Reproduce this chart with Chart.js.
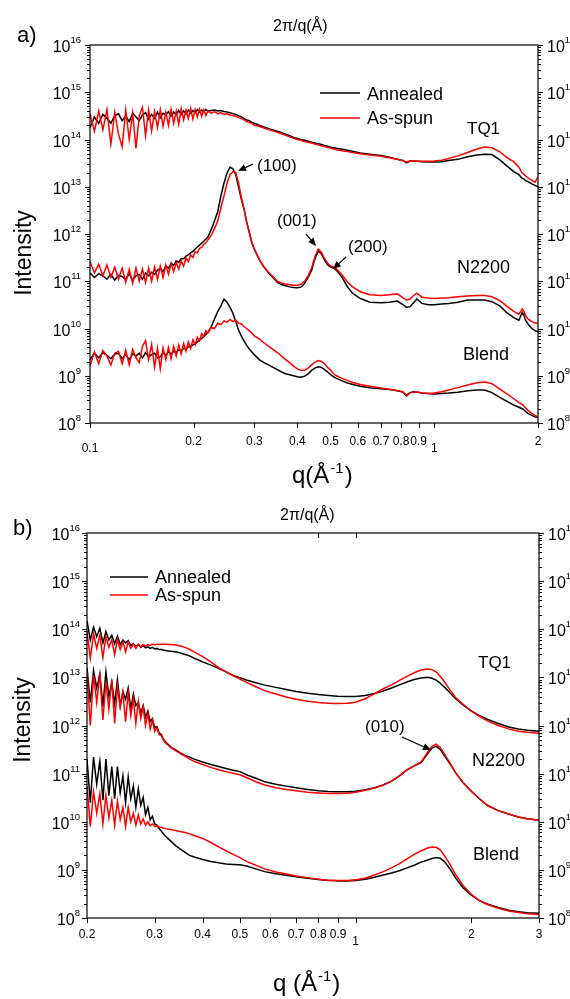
<!DOCTYPE html>
<html>
<head>
<meta charset="utf-8">
<script src="https://cdn.jsdelivr.net/npm/chart.js@4.4.1/dist/chart.umd.min.js"></script>
<style>
  body { margin: 0; background: #fff; }
  canvas { position: absolute; left: 0; }
  #chartA { top: 0; }
  #chartB { top: 499px; }
</style>
</head>
<body>
<canvas id="chartA" width="570" height="499"></canvas>
<canvas id="chartB" width="570" height="500"></canvas>
<script>
// ---- panel a: q grid and intensities ----
const qA = [
  0.100,0.103,0.106,0.109,0.112,0.115,0.118,0.121,0.124,0.127,
  0.130,0.133,0.136,0.139,0.142,0.145,0.148,0.151,0.154,0.157,
  0.160,0.163,0.166,0.169,0.172,0.175,0.178,0.181,0.184,0.187,
  0.190,0.193,0.196,0.199,0.202,0.205,0.208,0.211,0.214,0.217,
  0.220,0.225,0.230,0.235,0.240,0.245,0.250,0.255,0.260,0.265,
  0.270,0.275,0.280,0.285,0.290,0.295,0.300,0.31,0.32,0.33,
  0.34,0.35,0.36,0.37,0.38,0.39,0.40,0.41,0.42,0.43,
  0.44,0.45,0.46,0.47,0.48,0.49,0.50,0.51,0.52,0.54,
  0.56,0.58,0.61,0.65,0.70,0.74,0.78,0.81,0.83,0.85,
  0.87,0.89,0.92,0.96,1.00,1.05,1.10,1.17,1.25,1.33,
  1.40,1.47,1.55,1.62,1.70,1.76,1.80,1.82,1.84,1.87,
  1.92,1.96,2.00
];

const tq1AnnealedA = [
  1.8e14,3.0e14,2.2e14,3.4e14,2.8e14,2.2e14,3.2e14,3.5e14,2.5e14,3.1e14,
  2.4e14,3.6e14,3.0e14,2.5e14,3.3e14,3.7e14,2.7e14,3.4e14,2.8e14,3.8e14,
  2.9e14,3.6e14,3.3e14,3.9e14,3.1e14,3.8e14,3.3e14,4.1e14,3.4e14,4.0e14,
  3.5e14,4.2e14,3.6e14,4.1e14,3.7e14,4.3e14,3.8e14,4.2e14,3.9e14,4.3e14,
  4.0e14,4.1e14,4.2e14,4.0e14,4.1e14,3.9e14,3.8e14,3.7e14,3.5e14,3.4e14,
  3.2e14,3.0e14,2.8e14,2.6e14,2.5e14,2.3e14,2.2e14,2.0e14,1.85e14,1.7e14,
  1.6e14,1.5e14,1.4e14,1.3e14,1.2e14,1.1e14,1.05e14,1.0e14,9.6e13,9.2e13,
  8.8e13,8.4e13,8.1e13,7.8e13,7.5e13,7.2e13,6.9e13,6.7e13,6.5e13,6.2e13,
  5.9e13,5.6e13,5.2e13,4.9e13,4.6e13,4.2e13,3.8e13,3.6e13,3.2e13,3.5e13,
  3.5e13,3.45e13,3.4e13,3.35e13,3.35e13,3.4e13,3.6e13,3.8e13,4.3e13,4.7e13,
  4.9e13,4.8e13,3.7e13,2.8e13,2.1e13,1.8e13,1.5e13,1.45e13,1.35e13,1.28e13,
  1.15e13,1.07e13,1.0e13
];
const tq1SpunA = [
  3.5e14,1.5e14,4.0e14,1.6e14,4.3e14,8e13,3.8e14,1.3e14,7e13,4.2e14,
  1.0e14,3.6e14,6.5e13,3.2e14,4.8e14,1.2e14,4.2e14,1.5e14,3.9e14,1.8e14,
  4.3e14,1.9e14,3.8e14,2.0e14,4.4e14,2.2e14,4.0e14,2.1e14,4.5e14,2.6e14,
  4.2e14,2.8e14,4.6e14,2.7e14,4.3e14,3.0e14,4.4e14,3.1e14,4.2e14,3.2e14,
  4.0e14,3.6e14,3.9e14,3.5e14,3.7e14,3.4e14,3.5e14,3.3e14,3.2e14,3.1e14,
  2.9e14,2.8e14,2.6e14,2.4e14,2.3e14,2.2e14,2.0e14,1.9e14,1.75e14,1.62e14,
  1.52e14,1.42e14,1.32e14,1.23e14,1.14e14,1.06e14,1.0e14,9.5e13,9.1e13,8.7e13,
  8.4e13,8.0e13,7.7e13,7.4e13,7.1e13,6.8e13,6.5e13,6.3e13,6.1e13,5.8e13,
  5.6e13,5.3e13,5.0e13,4.7e13,4.4e13,4.1e13,3.8e13,3.6e13,3.3e13,3.55e13,
  3.5e13,3.5e13,3.45e13,3.45e13,3.5e13,3.65e13,3.95e13,4.5e13,5.3e13,6.3e13,
  6.9e13,6.7e13,5.5e13,4.2e13,3.4e13,2.6e13,1.95e13,1.85e13,1.7e13,1.55e13,
  1.35e13,1.25e13,1.6e13
];
const n2200AnnealedA = [
  1.5e11,1.2e11,1.45e11,1.3e11,1.1e11,1.4e11,1.05e11,1.35e11,1.25e11,1.1e11,
  1.45e11,1.05e11,1.3e11,1.4e11,1.1e11,1.5e11,1.3e11,1.55e11,1.4e11,1.7e11,
  1.9e11,1.6e11,2.1e11,1.9e11,2.4e11,2.2e11,2.7e11,2.5e11,3.0e11,3.0e11,
  3.4e11,3.6e11,4.0e11,4.3e11,4.8e11,5.3e11,5.8e11,6.4e11,7.0e11,7.8e11,
  8.6e11,1.25e12,1.9e12,3.0e12,6.5e12,1.2e13,1.95e13,2.6e13,2.4e13,1.8e13,
  1.0e13,5.5e12,3.4e12,1.8e12,1.1e12,6.5e11,4.8e11,2.9e11,2.0e11,1.5e11,
  1.2e11,9.5e10,8.5e10,8.0e10,7.6e10,7.4e10,7.3e10,7.5e10,9.0e10,1.2e11,
  1.7e11,3.0e11,4.4e11,3.8e11,2.8e11,2.2e11,2.0e11,1.9e11,1.7e11,1.2e11,
  7.5e10,5.5e10,4.3e10,3.6e10,3.5e10,3.6e10,3.8e10,3.2e10,2.8e10,2.9e10,
  3.5e10,4.2e10,3.4e10,3.2e10,3.2e10,3.3e10,3.4e10,3.6e10,4.0e10,4.0e10,
  4.0e10,3.7e10,3.0e10,2.2e10,1.7e10,1.5e10,2.2e10,1.9e10,1.5e10,1.25e10,
  1.0e10,9e9,8.5e9
];
const n2200SpunA = [
  2.6e11,1.5e11,2.3e11,1.3e11,2.2e11,1.2e11,2.0e11,1.1e11,1.9e11,9.5e10,
  1.8e11,9e10,1.9e11,1.0e11,1.8e11,9.5e10,1.9e11,1.0e11,2.0e11,1.1e11,
  2.1e11,1.2e11,2.2e11,1.4e11,2.4e11,1.6e11,2.5e11,1.8e11,2.7e11,2.1e11,
  3.1e11,2.6e11,3.6e11,3.2e11,4.2e11,4.0e11,5.0e11,5.2e11,6.0e11,6.5e11,
  7.5e11,9.5e11,1.3e12,1.9e12,3.6e12,6.5e12,1.2e13,1.8e13,2.1e13,2.0e13,
  1.2e13,6e12,3.5e12,1.8e12,1.1e12,6.8e11,4.8e11,2.9e11,2.0e11,1.55e11,
  1.25e11,1.0e11,9.2e10,8.7e10,8.4e10,8.2e10,8.2e10,8.6e10,1.0e11,1.3e11,
  1.9e11,3.3e11,4.8e11,4.1e11,3.0e11,2.4e11,2.1e11,2.0e11,1.8e11,1.35e11,
  9.5e10,7.5e10,6.0e10,5.2e10,5.0e10,5.2e10,5.4e10,4.5e10,4.0e10,4.2e10,
  5.0e10,5.6e10,4.6e10,4.4e10,4.3e10,4.4e10,4.5e10,4.7e10,4.9e10,5.0e10,
  5.0e10,4.7e10,3.9e10,3.0e10,2.3e10,2.0e10,2.6e10,2.3e10,1.9e10,1.6e10,
  1.4e10,1.3e10,1.3e10
];
const blendAnnealedA = [
  2.2e9,3.0e9,2.4e9,3.1e9,2.7e9,2.3e9,2.9e9,3.0e9,2.3e9,2.8e9,
  2.2e9,2.9e9,2.6e9,3.0e9,2.4e9,3.1e9,2.5e9,2.8e9,3.0e9,2.4e9,
  2.5e9,3.1e9,2.7e9,3.2e9,2.9e9,3.3e9,3.1e9,3.5e9,3.4e9,3.8e9,
  3.7e9,4.1e9,4.2e9,4.5e9,4.8e9,5.2e9,5.7e9,6.2e9,6.8e9,7.5e9,
  8.3e9,1.1e10,1.6e10,2.3e10,3.0e10,4.2e10,3.6e10,2.8e10,2.1e10,1.4e10,
  9.3e9,7e9,5.5e9,4.4e9,3.7e9,3.2e9,2.8e9,2.2e9,1.9e9,1.7e9,
  1.5e9,1.35e9,1.2e9,1.1e9,1.05e9,1.0e9,9.5e8,9.3e8,9.8e8,1.1e9,
  1.3e9,1.45e9,1.55e9,1.5e9,1.35e9,1.2e9,1.05e9,9.5e8,8.8e8,7.8e8,
  7.0e8,6.5e8,6.0e8,5.6e8,5.3e8,5.1e8,4.8e8,4.5e8,3.9e8,4.4e8,
  4.6e8,4.5e8,4.3e8,4.2e8,4.1e8,4.2e8,4.3e8,4.5e8,4.8e8,5.0e8,
  5.0e8,4.4e8,3.5e8,2.9e8,2.4e8,2.15e8,2.0e8,1.9e8,1.75e8,1.6e8,
  1.45e8,1.35e8,1.3e8
];
const blendSpunA = [
  1.6e9,3.2e9,1.8e9,3.4e9,2.6e9,1.7e9,3.0e9,3.3e9,1.8e9,3.5e9,
  1.7e9,3.6e9,2.4e9,1.9e9,4.2e9,5.5e9,2.2e9,4.6e9,1.5e9,3.8e9,
  1.4e9,3.9e9,2.2e9,4.0e9,2.3e9,4.2e9,2.6e9,4.5e9,2.9e9,4.8e9,
  3.3e9,5.2e9,3.8e9,5.8e9,4.5e9,6.5e9,5.5e9,7.8e9,6.8e9,9.0e9,
  8.0e9,1.05e10,1.0e10,1.3e10,1.2e10,1.45e10,1.35e10,1.55e10,1.4e10,1.5e10,
  1.3e10,1.25e10,1.1e10,1.0e10,9e9,8e9,7e9,6.0e9,5.0e9,4.2e9,
  3.6e9,3.1e9,2.6e9,2.2e9,1.9e9,1.6e9,1.4e9,1.3e9,1.3e9,1.45e9,
  1.7e9,1.95e9,2.1e9,2.0e9,1.8e9,1.5e9,1.3e9,1.1e9,1.0e9,8.8e8,
  8.0e8,7.2e8,6.5e8,6.0e8,5.5e8,5.2e8,4.9e8,4.6e8,3.7e8,4.4e8,
  4.5e8,4.6e8,4.3e8,4.2e8,4.3e8,4.6e8,5.0e8,5.6e8,6.4e8,7.1e8,
  7.4e8,6.8e8,5.2e8,4.2e8,3.3e8,2.7e8,2.5e8,2.3e8,2.1e8,1.85e8,
  1.6e8,1.45e8,1.35e8
];

// ---- panel b ----
const qB = [
  0.200,0.204,0.208,0.212,0.216,0.220,0.224,0.228,0.232,0.236,
  0.240,0.244,0.248,0.252,0.256,0.260,0.264,0.268,0.272,0.276,
  0.280,0.284,0.288,0.292,0.296,0.300,0.304,0.308,0.312,0.316,
  0.320,0.33,0.34,0.35,0.36,0.37,0.38,0.40,0.42,0.44,
  0.46,0.48,0.50,0.52,0.55,0.58,0.62,0.66,0.70,0.75,
  0.80,0.85,0.88,0.90,0.95,1.00,1.06,1.12,1.18,1.24,
  1.30,1.36,1.42,1.48,1.54,1.58,1.62,1.66,1.70,1.76,
  1.82,1.90,2.00,2.10,2.20,2.35,2.50,2.65,2.80,3.00
];
const tq1AnnealedB = [
  1.5e14,6e13,1.1e14,7e13,1.05e14,5.2e13,9e13,6e13,7.5e13,5e13,
  7.2e13,4.8e13,6e13,5.2e13,5.8e13,4.5e13,5.0e13,4.5e13,4.8e13,4.2e13,
  4.6e13,4.1e13,4.3e13,4.0e13,4.2e13,3.9e13,4.0e13,3.8e13,3.8e13,3.7e13,
  3.6e13,3.5e13,3.4e13,3.2e13,3.0e13,2.8e13,2.5e13,2.1e13,1.8e13,1.55e13,
  1.3e13,1.1e13,9.8e12,8.8e12,7.7e12,6.9e12,6.2e12,5.6e12,5.1e12,4.7e12,
  4.4e12,4.2e12,4.1e12,4.05e12,4.0e12,4.0e12,4.2e12,4.6e12,5.2e12,6.0e12,
  7.0e12,8.0e12,9.0e12,9.7e12,1.0e13,9.6e12,8.8e12,7.6e12,6.3e12,4.8e12,
  3.6e12,2.7e12,2.0e12,1.6e12,1.35e12,1.1e12,9.3e11,8.5e11,8.0e11,7.6e11
];
const tq1SpunB = [
  9e13,2.5e13,8e13,4e13,7.5e13,2.6e13,7e13,4.2e13,6e13,3.0e13,
  6.2e13,3.8e13,5.4e13,3.4e13,5.5e13,4.0e13,4.9e13,4.0e13,4.9e13,4.3e13,
  4.8e13,4.4e13,4.8e13,4.6e13,4.9e13,4.7e13,4.9e13,4.8e13,4.9e13,4.9e13,
  4.9e13,4.8e13,4.7e13,4.5e13,4.2e13,3.8e13,3.4e13,2.7e13,2.1e13,1.6e13,
  1.3e13,1.08e13,9.2e12,7.9e12,6.4e12,5.3e12,4.5e12,3.9e12,3.5e12,3.2e12,
  3.0e12,2.9e12,2.85e12,2.85e12,2.9e12,3.05e12,3.6e12,4.6e12,5.8e12,7.0e12,
  8.7e12,1.05e13,1.25e13,1.42e13,1.5e13,1.45e13,1.3e13,1.05e13,8.2e12,5.5e12,
  3.8e12,2.8e12,2.0e12,1.55e12,1.25e12,1.0e12,8.5e11,7.6e11,7.2e11,6.9e11
];
const n2200AnnealedB = [
  1.6e13,3e12,1.4e13,6e12,1.2e13,2.5e12,1.3e13,4e12,8e12,2.8e12,
  9e12,2.6e12,5e12,3.5e12,6e12,2.2e12,4.5e12,2.6e12,3.0e12,1.8e12,
  2.6e12,1.5e12,2.0e12,1.2e12,1.4e12,9e11,9.5e11,7e11,6.5e11,5.2e11,
  4.6e11,3.6e11,3.1e11,2.7e11,2.4e11,2.2e11,2.0e11,1.75e11,1.55e11,1.4e11,
  1.28e11,1.18e11,1.1e11,9.5e10,8e10,6.8e10,6.0e10,5.5e10,5.1e10,4.7e10,
  4.4e10,4.25e10,4.2e10,4.2e10,4.2e10,4.3e10,4.6e10,5.1e10,5.8e10,7.0e10,
  9.0e10,1.2e11,1.45e11,1.7e11,2.6e11,3.4e11,3.7e11,3.2e11,2.4e11,1.6e11,
  1.05e11,6.6e10,4.3e10,3e10,2.2e10,1.7e10,1.45e10,1.25e10,1.15e10,1.07e10
];
const n2200SpunB = [
  1.3e13,1.0e12,1.1e13,3e12,1.2e13,1.3e12,8e12,2.2e12,9e12,1.1e12,
  6.5e12,2.4e12,5.0e12,1.2e12,4.8e12,1.6e12,3.6e12,1.1e12,3.2e12,1.4e12,
  2.4e12,1.0e12,1.8e12,8.5e11,1.3e12,7.5e11,9e11,6.5e11,6.2e11,5.0e11,
  4.4e11,3.5e11,3.0e11,2.6e11,2.3e11,2.0e11,1.8e11,1.55e11,1.35e11,1.2e11,
  1.1e11,1.02e11,9.5e10,8.3e10,6.8e10,5.8e10,5.1e10,4.7e10,4.4e10,4.1e10,
  3.95e10,3.85e10,3.85e10,3.85e10,3.9e10,4.1e10,4.5e10,5.0e10,5.8e10,7.0e10,
  9.0e10,1.2e11,1.45e11,1.75e11,2.8e11,3.7e11,4.1e11,3.5e11,2.6e11,1.65e11,
  1.05e11,6.6e10,4.3e10,3e10,2.2e10,1.7e10,1.45e10,1.25e10,1.15e10,1.07e10
];
const blendAnnealedB = [
  2.0e11,2.5e10,2.2e11,6e10,1.8e11,2.8e10,2.0e11,3.5e10,1.4e11,3e10,
  1.4e11,4e10,9e10,2.5e10,8.5e10,3e10,5.5e10,2.0e10,4.8e10,2.2e10,
  3.2e10,1.4e10,2.0e10,1.1e10,1.3e10,9e9,8.5e9,7.2e9,6.4e9,5.6e9,
  5.0e9,4.0e9,3.2e9,2.7e9,2.3e9,2.0e9,1.85e9,1.65e9,1.5e9,1.4e9,
  1.33e9,1.3e9,1.28e9,1.2e9,1.05e9,9.2e8,8.3e8,7.7e8,7.2e8,6.7e8,
  6.3e8,6.0e8,6.0e8,5.9e8,5.9e8,6.0e8,6.4e8,7.0e8,7.8e8,8.6e8,
  9.6e8,1.1e9,1.25e9,1.45e9,1.6e9,1.72e9,1.8e9,1.75e9,1.5e9,1.05e9,
  6.8e8,4.3e8,3.0e8,2.3e8,1.95e8,1.65e8,1.45e8,1.35e8,1.28e8,1.25e8
];
const blendSpunB = [
  5.5e10,8e9,4.2e10,1.5e10,3.8e10,9e9,3.5e10,1.2e10,2.8e10,8.5e9,
  2.7e10,1.1e10,2.0e10,8e9,2.0e10,1.0e10,1.5e10,8.5e9,1.4e10,9e9,
  1.15e10,8.5e9,1.0e10,8.3e9,9e9,8e9,8.2e9,7.8e9,7.7e9,7.4e9,
  7.2e9,6.9e9,6.6e9,6.3e9,6.0e9,5.6e9,5.2e9,4.5e9,3.7e9,3.0e9,
  2.5e9,2.1e9,1.8e9,1.5e9,1.25e9,1.05e9,9e8,8.2e8,7.5e8,6.9e8,
  6.4e8,6.1e8,6.0e8,6.0e8,6.0e8,6.2e8,6.8e8,7.8e8,9.2e8,1.1e9,
  1.35e9,1.7e9,2.1e9,2.5e9,2.85e9,3.0e9,2.95e9,2.6e9,2.0e9,1.3e9,
  8e8,4.8e8,3.1e8,2.3e8,1.9e8,1.6e8,1.4e8,1.3e8,1.22e8,1.18e8
];

// ---- axes ----
const yExponents = [8, 9, 10, 11, 12, 13, 14, 15, 16];
const xTicksA = [0.1, 0.2, 0.3, 0.4, 0.5, 0.6, 0.7, 0.8, 0.9, 1, 2];
const xTickLabelsA = ['0.1', '0.2', '0.3', '0.4', '0.5', '0.6', '0.7', '0.8', '0.9', '1', '2'];
const xLowTicksA = [0.1, 1];
const xTicksB = [0.2, 0.3, 0.4, 0.5, 0.6, 0.7, 0.8, 0.9, 1, 2, 3];
const xTickLabelsB = ['0.2', '0.3', '0.4', '0.5', '0.6', '0.7', '0.8', '0.9', '1', '2', '3'];
const xLowTicksB = [1];
const topTicksB = [0.8, 1];

const BLACK = '#000000';
const RED = '#ff0000';
const FONT = '"Liberation Sans", Arial, sans-serif';

// decorations per canvas (pixel positions of labels)
const decor = {
  chartA: {
    xTicks: xTicksA, xLabels: xTickLabelsA, lowTicks: xLowTicksA, topTicks: [],
    labelY: 445, lowY: 452, yLabelRight: 81,
    texts: [
      ['a)', 17, 42, 22], ['2π/q(Å)', 273, 31, 16],
      ['Annealed', 367, 100, 18], ['As-spun', 367, 124, 18],
      ['TQ1', 467, 134, 17], ['(100)', 257, 171, 17], ['(001)', 277, 226, 17],
      ['(200)', 348, 252, 17], ['N2200', 457, 273, 18], ['Blend', 463, 360, 18]
    ],
    legend: [[320, 360, 93, BLACK], [320, 360, 118, RED]],
    arrows: [[253, 164, 238, 171], [306, 234, 316, 246], [346, 257, 333, 269]],
    xTitle: ['q(Å', ')', 292, 483], yTitle: [25, 253]
  },
  chartB: {
    xTicks: xTicksB, xLabels: xTickLabelsB, lowTicks: xLowTicksB, topTicks: topTicksB,
    labelY: 439, lowY: 446, yLabelRight: 80,
    texts: [
      ['b)', 13, 36, 22], ['2π/q(Å)', 280, 21, 16],
      ['Annealed', 155, 84, 18], ['As-spun', 155, 102, 18],
      ['TQ1', 478, 169, 17], ['(010)', 365, 233, 17],
      ['N2200', 472, 267, 18], ['Blend', 473, 361, 18]
    ],
    legend: [[110, 148, 78, BLACK], [110, 148, 96, RED]],
    arrows: [[402, 238, 431, 251]],
    xTitle: ['q (Å', ')', 273, 492], yTitle: [24, 221]
  }
};

function drawPow(ctx, x, y, exp, align) {
  ctx.font = '16px ' + FONT;
  const w1 = ctx.measureText('10').width;
  ctx.font = '9.5px ' + FONT;
  const w2 = ctx.measureText(exp).width;
  const x0 = align === 'right' ? x - w1 - w2 : x;
  ctx.textAlign = 'left';
  ctx.font = '16px ' + FONT;
  ctx.fillText('10', x0, y + 7);
  ctx.font = '9.5px ' + FONT;
  ctx.fillText(exp, x0 + w1, y - 2);
}

function drawArrow(ctx, x1, y1, x2, y2) {
  const ang = Math.atan2(y2 - y1, x2 - x1);
  const hl = 8, hw = 3.5;
  const bx = x2 - hl * Math.cos(ang), by = y2 - hl * Math.sin(ang);
  ctx.lineWidth = 1.2;
  ctx.beginPath();
  ctx.moveTo(x1, y1);
  ctx.lineTo(bx, by);
  ctx.stroke();
  ctx.beginPath();
  ctx.moveTo(x2, y2);
  ctx.lineTo(bx + hw * Math.sin(ang), by - hw * Math.cos(ang));
  ctx.lineTo(bx - hw * Math.sin(ang), by + hw * Math.cos(ang));
  ctx.closePath();
  ctx.fill();
}

const framePlugin = {
  id: 'frame',
  afterDraw(chart) {
    const d = decor[chart.canvas.id];
    const ctx = chart.ctx;
    const a = chart.chartArea;
    const xs = chart.scales.x, ys = chart.scales.y;
    ctx.save();
    ctx.strokeStyle = '#000';
    ctx.fillStyle = '#000';
    ctx.textBaseline = 'alphabetic';

    ctx.lineWidth = 1.2;
    ctx.strokeRect(a.left, a.top, a.right - a.left, a.bottom - a.top);

    // y ticks, both sides, outward
    ctx.lineWidth = 1;
    ctx.beginPath();
    yExponents.forEach(e => {
      for (let m = 1; m <= 9; m++) {
        if (e === 16 && m > 1) break;
        const y = Math.round(ys.getPixelForValue(m * Math.pow(10, e))) + 0.5;
        const len = m === 1 ? 5 : 3;
        ctx.moveTo(a.left - len, y); ctx.lineTo(a.left, y);
        ctx.moveTo(a.right, y); ctx.lineTo(a.right + len, y);
      }
    });
    // x ticks
    d.xTicks.forEach(v => {
      const x = Math.round(xs.getPixelForValue(v)) + 0.5;
      ctx.moveTo(x, a.bottom); ctx.lineTo(x, a.bottom + 5);
    });
    d.topTicks.forEach(v => {
      const x = Math.round(xs.getPixelForValue(v)) + 0.5;
      ctx.moveTo(x, a.top); ctx.lineTo(x, a.top + 5);
    });
    ctx.stroke();

    // y labels
    yExponents.forEach(e => {
      const y = ys.getPixelForValue(Math.pow(10, e));
      drawPow(ctx, d.yLabelRight, y, String(e), 'right');
      drawPow(ctx, a.right + 9, y, String(e), 'left');
    });

    // x labels
    ctx.font = '12px ' + FONT;
    ctx.textAlign = 'center';
    d.xTicks.forEach((v, i) => {
      const x = xs.getPixelForValue(v);
      ctx.fillText(d.xLabels[i], x, d.lowTicks.includes(v) ? d.lowY : d.labelY);
    });

    // free texts
    ctx.textAlign = 'left';
    d.texts.forEach(([t, x, y, s]) => {
      ctx.font = s + 'px ' + FONT;
      ctx.fillText(t, x, y);
    });

    // legend samples
    ctx.lineWidth = 1.6;
    d.legend.forEach(([x1, x2, y, c]) => {
      ctx.strokeStyle = c;
      ctx.beginPath(); ctx.moveTo(x1, y); ctx.lineTo(x2, y); ctx.stroke();
    });
    ctx.strokeStyle = '#000';

    d.arrows.forEach(ar => drawArrow(ctx, ...ar));

    // axis titles
    const [pre, post, tx, ty] = d.xTitle;
    ctx.font = '24px ' + FONT;
    const w1 = ctx.measureText(pre).width;
    ctx.fillText(pre, tx, ty);
    ctx.font = '15px ' + FONT;
    const w2 = ctx.measureText('-1').width;
    ctx.fillText('-1', tx + w1 + 1, ty - 10);
    ctx.font = '24px ' + FONT;
    ctx.fillText(post, tx + w1 + w2 + 2, ty);

    ctx.save();
    ctx.translate(d.yTitle[0], d.yTitle[1]);
    ctx.rotate(-Math.PI / 2);
    ctx.textAlign = 'center';
    ctx.textBaseline = 'middle';
    ctx.font = '23px ' + FONT;
    ctx.fillText('Intensity', 0, 0);
    ctx.restore();

    ctx.restore();
  }
};

function makeChart(id, q, series, xMin, xMax, pad) {
  return new Chart(document.getElementById(id), {
    type: 'line',
    data: {
      datasets: series.map(s => ({
        label: s.label,
        data: q.map((x, i) => ({ x: x, y: s.values[i] })),
        borderColor: s.color,
        borderWidth: 1.5,
        pointRadius: 0,
        tension: 0,
        order: s.color === RED ? 1 : 2 // red drawn over black
      }))
    },
    options: {
      responsive: false,
      animation: false,
      events: [],
      layout: { padding: pad },
      scales: {
        x: { type: 'logarithmic', min: xMin, max: xMax, display: false },
        y: { type: 'logarithmic', min: 1e8, max: 1e16, display: false }
      },
      plugins: { legend: { display: false }, tooltip: { enabled: false } }
    },
    plugins: [framePlugin]
  });
}

makeChart('chartA', qA, [
  { label: 'TQ1 Annealed', values: tq1AnnealedA, color: BLACK },
  { label: 'TQ1 As-spun', values: tq1SpunA, color: RED },
  { label: 'N2200 Annealed', values: n2200AnnealedA, color: BLACK },
  { label: 'N2200 As-spun', values: n2200SpunA, color: RED },
  { label: 'Blend Annealed', values: blendAnnealedA, color: BLACK },
  { label: 'Blend As-spun', values: blendSpunA, color: RED }
], 0.1, 2, { left: 90, top: 45, right: 32, bottom: 76 });

makeChart('chartB', qB, [
  { label: 'TQ1 Annealed', values: tq1AnnealedB, color: BLACK },
  { label: 'TQ1 As-spun', values: tq1SpunB, color: RED },
  { label: 'N2200 Annealed', values: n2200AnnealedB, color: BLACK },
  { label: 'N2200 As-spun', values: n2200SpunB, color: RED },
  { label: 'Blend Annealed', values: blendAnnealedB, color: BLACK },
  { label: 'Blend As-spun', values: blendSpunB, color: RED }
], 0.2, 3, { left: 87, top: 34, right: 31, bottom: 81 });
</script>
</body>
</html>
